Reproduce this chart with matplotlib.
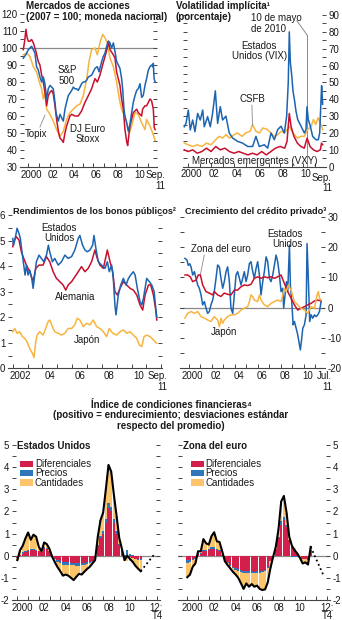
import numpy as np
import pandas as pd
import matplotlib
matplotlib.use("Agg")
import matplotlib.pyplot as plt
from matplotlib import font_manager
from matplotlib.patches import Rectangle

_names = {f.name for f in font_manager.fontManager.ttflist}
_base = "Liberation Sans Narrow" if "Liberation Sans Narrow" in _names else "Liberation Sans"
plt.rcParams["font.family"] = [_base, "DejaVu Sans"]
plt.rcParams["axes.unicode_minus"] = False

BLUE = "#1d64b0"
RED = "#c8102e"
ORANGE = "#f7b43f"
GREY = "#8a8a8a"
AXC = "#444444"
TXT = "#1a1a1a"
BAR_RED = "#d31f4b"
BAR_BLUE = "#2f76bd"
BAR_ORANGE = "#fcc56c"

# ---------------- Mercados de acciones (2007 = 100) ----------------
sp500_t = [1999.52, 1999.75, 1999.99, 2000.29, 2000.45, 2000.60, 2000.75, 2000.91, 2001.06, 2001.22,
           2001.37, 2001.52, 2001.68, 2001.83, 2001.99, 2002.15, 2002.29, 2002.45, 2002.54, 2002.76,
           2002.91, 2003.06, 2003.22, 2003.37, 2003.52, 2003.68, 2003.99, 2004.14, 2004.29, 2004.45,
           2004.60, 2004.76, 2004.91, 2005.06, 2005.22, 2005.37, 2005.53, 2005.83, 2005.99, 2006.14,
           2006.36, 2006.52, 2006.76, 2006.91, 2007.07, 2007.22, 2007.37, 2007.53, 2007.68, 2007.84,
           2007.99, 2008.14, 2008.30, 2008.45, 2008.60, 2008.70, 2008.82, 2008.91, 2009.07, 2009.22,
           2009.37, 2009.53, 2009.68, 2009.84, 2009.99, 2010.14, 2010.30, 2010.45, 2010.60, 2010.76,
           2010.91, 2011.07, 2011.22, 2011.37, 2011.47, 2011.53, 2011.60, 2011.70]
sp500_v = [94, 96, 99, 101, 99, 97, 89, 87, 83, 80,
           83, 79, 70, 76, 78, 77, 76, 68, 62, 57,
           61, 59, 57, 64, 68, 72, 75, 77, 76, 76,
           75, 77, 79, 80, 80, 81, 83, 84, 86, 88,
           89, 86, 92, 95, 97, 101, 104, 103, 100, 103,
           98, 92, 90, 88, 82, 76, 64, 60, 56, 51,
           55, 62, 68, 72, 75, 76, 79, 71, 72, 78,
           82, 87, 89, 90, 89, 91, 82, 80]

stoxx_t = [1999.52, 1999.65, 1999.77, 1999.88, 1999.99, 2000.14, 2000.29, 2000.45, 2000.69, 2000.91,
           2001.06, 2001.22, 2001.37, 2001.52, 2001.68, 2001.83, 2001.99, 2002.15, 2002.29, 2002.45,
           2002.60, 2002.76, 2002.91, 2003.06, 2003.22, 2003.37, 2003.52, 2003.83, 2003.99, 2004.29,
           2004.60, 2004.91, 2005.22, 2005.53, 2005.83, 2006.14, 2006.36, 2006.60, 2006.85, 2007.07,
           2007.28, 2007.40, 2007.53, 2007.84, 2007.99, 2008.14, 2008.45, 2008.60, 2008.76, 2008.91,
           2009.07, 2009.16, 2009.37, 2009.68, 2009.84, 2009.99, 2010.14, 2010.30, 2010.45, 2010.54,
           2010.76, 2010.91, 2011.07, 2011.22, 2011.37, 2011.53, 2011.62, 2011.70]
stoxx_v = [99, 104, 111, 106, 104, 104, 105, 103, 98, 92,
           90, 84, 80, 74, 66, 72, 74, 75, 73, 66,
           58, 51, 47, 46, 44.5, 50, 54, 60, 61, 60,
           60, 63, 68, 72, 76, 82, 80, 84, 90, 95,
           100, 104, 99, 96, 94, 86, 78, 70, 64, 52,
           45, 42.6, 54, 62, 63, 64, 62, 61, 60, 64,
           66, 66, 68, 70, 69, 64, 53, 52]

topix_t = [1999.52, 1999.83, 2000.14, 2000.45, 2000.75, 2001.00, 2001.22, 2001.37, 2001.52, 2001.68,
           2001.99, 2002.29, 2002.60, 2002.91, 2003.22, 2003.52, 2003.83, 2004.14, 2004.45, 2004.76,
           2005.06, 2005.37, 2005.62, 2005.83, 2006.14, 2006.36, 2006.60, 2006.85, 2007.07, 2007.28,
           2007.53, 2007.84, 2008.14, 2008.39, 2008.60, 2008.82, 2009.07, 2009.31, 2009.53, 2009.84,
           2010.14, 2010.45, 2010.76, 2010.91, 2011.22, 2011.47, 2011.60, 2011.70]
topix_v = [96, 97, 95, 89, 86, 80, 76, 70, 74, 64,
           61, 57, 52, 48, 51, 58, 62, 64, 66, 67,
           72, 81.5, 93, 99, 100, 96, 103, 108, 106, 103,
           94, 89, 80, 70, 64, 61, 56, 50, 54, 62,
           61, 56, 52, 58, 54, 50, 47.5, 45.5]

# ---------------- Volatilidad implícita (porcentaje) ----------------
vix_t = [1999.67, 1999.82, 2000.02, 2000.19, 2000.40, 2000.60, 2000.83, 2001.06, 2001.27, 2001.41,
         2001.70, 2001.93, 2002.13, 2002.37, 2002.57, 2002.80, 2003.00, 2003.29, 2003.58, 2003.87,
         2004.31, 2004.74, 2005.18, 2005.61, 2005.90, 2006.19, 2006.63, 2006.92, 2007.21, 2007.50,
         2007.79, 2008.08, 2008.37, 2008.57, 2008.71, 2008.80, 2008.89, 2009.00, 2009.12, 2009.24,
         2009.38, 2009.53, 2009.82, 2010.11, 2010.25, 2010.34, 2010.45, 2010.63, 2010.83, 2011.12,
         2011.32, 2011.44, 2011.56, 2011.61, 2011.70]
vix_v = [23.7, 25.7, 33.6, 21.8, 27.7, 20.8, 31.6, 27.7, 33.6, 23.7,
         29.7, 23.7, 31.6, 45, 25.7, 35.6, 27.7, 30, 20, 17,
         15, 14, 12, 12, 18, 12, 13, 11, 20, 16,
         22, 24, 20, 30, 50, 80, 62, 55, 45, 40,
         33, 28, 24, 20, 22, 35.6, 28, 24, 18, 16,
         16, 20, 40, 48, 37]

csfb_t = [1999.67, 2000.0, 2000.4, 2000.8, 2001.2, 2001.6, 2002.0, 2002.4, 2002.7, 2003.0,
          2003.3, 2003.6, 2004.0, 2004.3, 2004.7, 2005.0, 2005.4, 2005.6, 2005.9, 2006.2,
          2006.5, 2006.9, 2007.2, 2007.5, 2007.8, 2008.1, 2008.4, 2008.8, 2009.1, 2009.5,
          2009.8, 2010.1, 2010.4, 2010.7, 2010.9, 2011.1, 2011.3, 2011.5, 2011.7]
csfb_v = [14, 13, 12, 13, 12, 14, 13, 16, 18, 17,
          19, 17, 19, 20, 18, 20, 21, 25, 21, 20,
          23, 22, 20, 18, 19, 21, 20, 24, 20, 17,
          18, 18, 22, 24, 28, 25, 29, 26, 22]

vxy_t = [1999.67, 2000.0, 2000.4, 2000.8, 2001.2, 2001.6, 2002.0, 2002.4, 2002.8, 2003.2,
         2003.6, 2004.0, 2004.4, 2004.8, 2005.2, 2005.6, 2006.0, 2006.4, 2006.8, 2007.2,
         2007.6, 2008.0, 2008.4, 2008.6, 2008.8, 2008.95, 2009.2, 2009.5, 2009.8, 2010.1,
         2010.35, 2010.6, 2010.9, 2011.2, 2011.5, 2011.6, 2011.7]
vxy_v = [10, 9, 10, 8, 9, 11, 9, 12, 10, 11,
         9, 8, 9, 8, 7, 8, 7, 9, 7, 9,
         11, 12, 11, 15, 31.6, 24, 18, 14, 12, 11,
         17, 12, 10, 9, 10, 14, 13]

# ---------------- Rendimientos de los bonos públicos ----------------
us10_t = [2002.00, 2002.06, 2002.20, 2002.29, 2002.42, 2002.51, 2002.65, 2002.74, 2002.83, 2002.92,
          2003.03, 2003.14, 2003.28, 2003.37, 2003.48, 2003.59, 2003.77, 2003.93, 2004.09, 2004.27,
          2004.40, 2004.49, 2004.67, 2004.83, 2005.06, 2005.28, 2005.51, 2005.73, 2005.96, 2006.18,
          2006.41, 2006.52, 2006.70, 2006.86, 2007.02, 2007.20, 2007.38, 2007.47, 2007.60, 2007.76,
          2007.98, 2008.21, 2008.37, 2008.50, 2008.66, 2008.77, 2008.88, 2008.95, 2009.11, 2009.27,
          2009.45, 2009.63, 2009.79, 2009.94, 2010.12, 2010.24, 2010.39, 2010.57, 2010.69, 2010.80,
          2011.02, 2011.20, 2011.36, 2011.52, 2011.63, 2011.70]
us10_v = [5.08, 4.82, 5.2, 5.48, 5.28, 5.08, 4.43, 4.04, 3.65, 4.04,
          3.65, 3.85, 3.52, 3.13, 3.65, 4.17, 4.43, 4.3, 4.17, 4.43,
          4.82, 4.56, 4.17, 4.3, 4.04, 4.17, 4.43, 4.3, 4.37, 4.63,
          5.08, 5.2, 4.82, 4.63, 4.56, 4.63, 4.82, 5.2, 4.69, 4.17,
          4.04, 3.91, 4.17, 3.78, 4.04, 3.52, 2.48, 2.09, 2.87, 3.26,
          3.52, 3.26, 3.52, 3.65, 3.78, 3.65, 3.13, 2.61, 2.48, 2.74,
          3.52, 3.39, 3.26, 3.0, 2.35, 2.0]

de10_t = [2002.00, 2002.06, 2002.24, 2002.42, 2002.58, 2002.74, 2002.92, 2003.14, 2003.37, 2003.55,
          2003.77, 2004.04, 2004.27, 2004.49, 2004.72, 2004.94, 2005.17, 2005.39, 2005.57, 2005.73,
          2005.96, 2006.18, 2006.41, 2006.63, 2006.86, 2007.08, 2007.31, 2007.53, 2007.69, 2007.87,
          2008.10, 2008.37, 2008.55, 2008.73, 2008.88, 2009.04, 2009.22, 2009.45, 2009.67, 2009.90,
          2010.12, 2010.35, 2010.57, 2010.75, 2010.91, 2011.14, 2011.29, 2011.47, 2011.61, 2011.70]
de10_v = [4.76, 4.95, 5.15, 5.02, 4.56, 4.3, 4.04, 3.78, 3.39, 3.91,
          4.04, 4.04, 4.37, 4.17, 3.78, 3.52, 3.39, 3.26, 3.06, 3.26,
          3.39, 3.58, 3.78, 3.98, 3.78, 3.91, 4.17, 4.63, 4.3, 4.04,
          3.91, 4.63, 4.17, 3.78, 3.0, 2.87, 3.13, 3.39, 3.26, 3.13,
          3.06, 2.87, 2.48, 2.28, 2.87, 3.26, 3.26, 2.87, 2.35, 1.89]

jp10_t = [2002.00, 2002.13, 2002.29, 2002.47, 2002.65, 2002.81, 2002.96, 2003.14, 2003.32, 2003.43,
          2003.55, 2003.64, 2003.82, 2004.04, 2004.22, 2004.38, 2004.49, 2004.67, 2004.83, 2005.06,
          2005.28, 2005.51, 2005.73, 2005.96, 2006.18, 2006.34, 2006.52, 2006.75, 2006.97, 2007.20,
          2007.42, 2007.65, 2007.87, 2008.10, 2008.32, 2008.50, 2008.73, 2009.00, 2009.22, 2009.45,
          2009.67, 2009.90, 2010.12, 2010.35, 2010.53, 2010.69, 2010.84, 2011.02, 2011.25, 2011.47,
          2011.70]
jp10_v = [1.43, 1.56, 1.37, 1.43, 1.24, 1.17, 1.04, 0.78, 0.59, 0.42,
          1.04, 1.3, 1.43, 1.3, 1.56, 1.83, 1.89, 1.63, 1.43, 1.37,
          1.3, 1.37, 1.56, 1.56, 1.7, 1.96, 1.89, 1.63, 1.76, 1.7,
          1.89, 1.63, 1.56, 1.43, 1.24, 1.56, 1.37, 1.3, 1.43, 1.5,
          1.37, 1.43, 1.3, 1.17, 0.91, 0.85, 1.24, 1.3, 1.24, 1.11,
          0.98]

# ---------------- Crecimiento del crédito privado ----------------
cr_us_t = [1999.67, 1999.85, 1999.96, 2000.08, 2000.20, 2000.34, 2000.49, 2000.63, 2000.78, 2000.92,
           2001.07, 2001.21, 2001.36, 2001.50, 2001.64, 2001.79, 2001.93, 2002.08, 2002.22, 2002.37,
           2002.51, 2002.66, 2002.80, 2002.95, 2003.09, 2003.24, 2003.38, 2003.53, 2003.67, 2003.82,
           2003.96, 2004.11, 2004.25, 2004.40, 2004.54, 2004.69, 2004.83, 2004.98, 2005.12, 2005.27,
           2005.41, 2005.56, 2005.70, 2005.85, 2005.99, 2006.14, 2006.28, 2006.43, 2006.57, 2006.72,
           2006.86, 2007.01, 2007.15, 2007.30, 2007.44, 2007.59, 2007.73, 2007.88, 2008.02, 2008.17,
           2008.25, 2008.37, 2008.49, 2008.60, 2008.75, 2008.83, 2008.95, 2009.07, 2009.18, 2009.33,
           2009.47, 2009.62, 2009.70, 2009.82, 2009.91, 2010.05, 2010.20, 2010.28, 2010.40, 2010.51,
           2010.63, 2010.78, 2010.92, 2011.07, 2011.21, 2011.36, 2011.50]
cr_us_v = [16.3, 15.7, 14, 14.5, 13.5, 10.8, 11.9, 9.7, 7.5, 6.4,
           4.2, 0.9, 2, -0.2, -1.9, -1.3, 0.9, 2.5, 5.3, 9.7,
           14.1, 13.5, 9.7, 6.4, 8.6, 11.9, 13.5, 8.6, -0.2, -1.9,
           4.2, 10.8, 11.9, 9.7, 7.5, 9.7, 11.9, 8.6, 10.8, 14.6,
           15.2, 11.9, 9.7, 13, 15.2, 10.8, 4.2, 8.6, 11.9, 16.8,
           15.2, 9.7, 8.6, 10.8, 14, 17.4, 15.2, 10.8, 5.3, 6.4,
           -0.2, 4.2, 8.6, 5.3, 20.7, 7.5, 2, -5.7, -4.6, -6.8,
           -9, -12.3, -14, -10.1, -6.8, -5.7, -2.4, 21.2, 8.6, -4.6,
           -2.4, -3.5, -2.4, -3, -2.4, -1.3, 2]

cr_eu_t = [1999.67, 1999.90, 2000.13, 2000.34, 2000.63, 2000.83, 2001.01, 2001.21, 2001.50, 2001.79,
           2002.08, 2002.22, 2002.51, 2002.80, 2003.09, 2003.38, 2003.67, 2003.96, 2004.25, 2004.54,
           2004.83, 2005.12, 2005.41, 2005.70, 2005.99, 2006.28, 2006.57, 2006.86, 2007.15, 2007.44,
           2007.73, 2008.02, 2008.31, 2008.60, 2008.89, 2009.18, 2009.47, 2009.76, 2010.05, 2010.34,
           2010.63, 2010.92, 2011.21, 2011.50]
cr_eu_v = [10.8, 10.8, 10.2, 8.6, 9.1, 10.8, 10.8, 7.5, 5.3, 4.8,
           4.2, 5.3, 4.2, 3.7, 4.8, 4.4, 4.2, 5.8, 5.8, 6.9,
           7.5, 7.3, 7.7, 9.7, 10.2, 9.7, 10.2, 9.9, 10.2, 9.7,
           10.2, 10.8, 8, 5.3, 3.1, 0.9, -0.8, -0.2, 0.3, 0.9,
           1.4, 2.2, 2.5, 2.2]

cr_jp_t = [1999.67, 1999.90, 2000.20, 2000.49, 2000.78, 2001.07, 2001.36, 2001.64, 2001.93, 2002.22,
           2002.51, 2002.66, 2002.80, 2002.95, 2003.09, 2003.38, 2003.67, 2003.96, 2004.25, 2004.54,
           2004.83, 2005.12, 2005.27, 2005.41, 2005.56, 2005.70, 2005.99, 2006.14, 2006.28, 2006.57,
           2006.86, 2007.15, 2007.44, 2007.73, 2008.02, 2008.17, 2008.31, 2008.46, 2008.66, 2008.89,
           2009.18, 2009.47, 2009.76, 2010.05, 2010.34, 2010.63, 2010.92, 2011.15, 2011.27, 2011.36,
           2011.50]
cr_jp_v = [-3.5, -1.9, -1.3, -1.9, -1.3, -3, -3.5, -4.1, -4.6, -3,
           -4.1, -6.3, -3.5, -5.2, -4.1, -3, -2.4, -2.4, -1.9, -0.8,
           -0.2, 0.3, 2, 4.2, 3.6, 2.5, 2, 4.2, 2.5, 0.9,
           0.3, 1.4, 2, 2.5, 2, 4.2, 6.4, 5.3, 7.5, 5.8,
           2, 0.9, -0.2, -0.8, -1.9, 0.3, -0.2, 4.2, 5.3, 3.1,
           2.5]

# ---------------- Índice de condiciones financieras (trimestral) ----------------
quarters = pd.period_range("2000Q1", "2011Q3", freq="Q")
fci_t = np.asarray(quarters.year + (quarters.quarter - 1) / 4.0, dtype=float)

us_dif = [-0.05, 0.05, 0.1, 0.15, 0.2, 0.25, 0.25, 0.2, 0.2, 0.15,
          0.35, 0.3, 0.2, 0.0, -0.1, -0.2, -0.25, -0.3, -0.3, -0.3,
          -0.32, -0.33, -0.35, -0.35, -0.32, -0.33, -0.3, -0.3, -0.25, -0.1,
          0.45, 0.8, 1.0, 1.5, 2.15, 2.0, 1.5, 1.0, 0.5, 0.2,
          -0.05, 0.0, -0.05, -0.1, -0.15, -0.15, -0.15]
us_pre = [-0.05, 0.0, 0.05, 0.05, 0.05, 0.05, 0.05, 0.05, 0.0, 0.0,
          0.05, 0.05, 0.0, -0.05, -0.05, -0.07, -0.08, -0.1, -0.1, -0.1,
          -0.1, -0.1, -0.1, -0.1, -0.1, -0.08, -0.08, -0.05, -0.03, 0.0,
          0.05, 0.1, 0.1, 0.15, 0.25, 0.2, 0.15, 0.1, 0.05, 0.05,
          0.05, 0.25, 0.1, 0.05, 0.0, -0.03, -0.05]
us_can = [-0.1, 0.2, 0.3, 0.58, 0.8, 0.42, 0.65, 0.61, 0.2, 0.05,
          0.2, 0.17, 0.1, 0.0, -0.15, -0.25, -0.37, -0.5, -0.45, -0.5,
          -0.58, -0.67, -0.5, -0.37, -0.43, -0.31, -0.22, -0.15, -0.07, -0.1,
          0.36, 0.7, 0.85, 1.35, 1.7, 1.6, 1.1, 0.7, 0.25, 0.05,
          -0.2, -0.25, -0.2, -0.22, -0.3, -0.4, -0.5]
us_proj_t = [2012.75]
us_proj_v = [0.05]

eu_dif = [-0.2, -0.2, -0.15, -0.1, 0.1, 0.1, 0.2, 0.2, 0.25, 0.3,
          0.3, 0.25, 0.2, 0.05, -0.2, -0.3, -0.4, -0.5, -0.55, -0.6,
          -0.65, -0.7, -0.7, -0.7, -0.7, -0.72, -0.7, -0.7, -0.7, -0.65,
          -0.5, -0.25, 0.0, 0.3, 0.8, 1.4, 1.6, 1.3, 0.7, 0.4,
          0.25, 0.1, 0.0, -0.15, -0.15, -0.2, 0.25]
eu_pre = [-0.12, -0.1, -0.05, -0.05, 0.02, 0.02, 0.05, 0.05, 0.05, 0.08,
          0.1, 0.05, 0.05, 0.0, -0.05, -0.05, -0.05, -0.05, -0.08, -0.08,
          -0.1, -0.1, -0.1, -0.1, -0.08, -0.08, -0.08, -0.08, -0.05, -0.05,
          -0.05, 0.0, 0.0, 0.02, 0.05, 0.15, 0.15, 0.1, 0.0, -0.05,
          -0.08, -0.05, 0.0, 0.0, 0.0, 0.0, 0.0]
eu_can = [-0.65, -0.55, -0.3, -0.2, 0.08, 0.08, 0.5, 0.31, 0.2, 0.5,
          0.66, 0.35, 0.37, 0.15, 0.0, -0.07, -0.12, -0.18, -0.22, -0.32,
          -0.5, -0.7, -0.45, -0.6, -0.5, -0.6, -0.57, -0.72, -0.8, -0.82,
          -0.65, -0.3, -0.05, 0.09, 0.35, 0.9, 0.95, 0.55, 0.16, 0.1,
          0.08, 0.05, -0.1, -0.2, -0.15, -0.2, 0.15]
eu_proj_t = [2012.75]
eu_proj_v = [-0.95]

fci_labels = ["Diferenciales", "Precios", "Cantidades"]
year_labels = ["2000", "02", "04", "06", "08", "10"]

FS = 7.0      # tick labels and in-plot labels
TFS = 7.0     # bold titles


def style_axis(ax, xlim, ylim, ymajor, yminor, side, ticks, label_pos, labels,
               end_x, end_text, end_spacing=1.1, end_drop=2.0):
    ax.set_xlim(*xlim)
    ax.set_ylim(*ylim)
    ax.patch.set_visible(False)
    for s in ("left", "right", "top"):
        ax.spines[s].set_visible(False)
    ax.spines["bottom"].set_color(AXC)
    ax.spines["bottom"].set_linewidth(0.8)
    ax.set_yticks(ymajor)
    ax.set_yticks(yminor, minor=True)
    ax.tick_params(axis="y", which="both", direction="in", length=3, width=0.7,
                   color=AXC, left=True, right=True,
                   labelleft=(side == "left"), labelright=(side == "right"),
                   labelsize=FS, labelcolor=TXT, pad=2)
    ax.set_xticks(ticks)
    ax.set_xticklabels([])
    ax.tick_params(axis="x", which="major", direction="in", length=3, width=0.7,
                   color=AXC)
    ax.set_xticks(label_pos, minor=True)
    ax.set_xticklabels(labels, minor=True)
    ax.tick_params(axis="x", which="minor", length=0, labelsize=FS,
                   labelcolor=TXT, pad=2)
    ax.annotate(end_text, xy=(end_x, 0), xycoords=("data", "axes fraction"),
                xytext=(0, -end_drop), textcoords="offset points", ha="center",
                va="top", fontsize=FS, color=TXT, multialignment="right",
                linespacing=end_spacing, annotation_clip=False)


fig = plt.figure(figsize=(3.42, 6.20), dpi=100)
W, H = 342.0, 620.0


def add_axes(l, t, r, b):
    return fig.add_axes([l / W, 1 - b / H, (r - l) / W, (b - t) / H])


def title_line(x, y, s, size=TFS, ha="left"):
    fig.text(x / W, 1 - y / H, s, ha=ha, va="center", fontsize=size,
             fontweight="bold", color=TXT)


# ---- Panel 1: stock markets ----
ax1 = add_axes(20, 14, 157, 167)
ax1.axhline(100, color=GREY, lw=0.9, zorder=1)
ax1.plot(topix_t, topix_v, color=ORANGE, lw=1.1, zorder=2)
ax1.plot(stoxx_t, stoxx_v, color=RED, lw=1.1, zorder=3)
ax1.plot(sp500_t, sp500_v, color=BLUE, lw=1.1, zorder=4)
style_axis(ax1, (1999.22, 2011.87), (30, 120), np.arange(30, 121, 10),
           np.arange(35, 120, 10), "left", np.arange(2000, 2012),
           np.arange(2000, 2011, 2) + 0.25, year_labels, 2011.75, "Sep.\n11")
ax1.text(2003.56, 83.8, "S&P\n500", ha="center", va="center", fontsize=FS,
         color=TXT, linespacing=1.05)
ax1.text(2000.69, 49.4, "Topix", ha="center", va="center", fontsize=FS, color=TXT)
ax1.plot([2001.06, 2001.53], [53.5, 60.6], color=GREY, lw=0.6)
ax1.text(2005.43, 49.4, "DJ Euro\nStoxx", ha="center", va="center", fontsize=FS,
         color=TXT, linespacing=1.05)
title_line(26, 6, "Mercados de acciones")
title_line(26, 17, "(2007 = 100; moneda nacional)")

# ---- Panel 2: implied volatility ----
ax2 = add_axes(183, 15, 326, 166.7)
ax2.plot([2010.36, 2010.36], [0, 78], color=GREY, lw=0.7, zorder=1)
ax2.plot([2009.46, 2010.36], [86.6, 78], color=GREY, lw=0.7, zorder=1)
ax2.plot(csfb_t, csfb_v, color=ORANGE, lw=1.1, zorder=2)
ax2.plot(vix_t, vix_v, color=BLUE, lw=1.1, zorder=3)
ax2.plot(vxy_t, vxy_v, color=RED, lw=1.1, zorder=4)
style_axis(ax2, (1999.56, 2011.99), (0, 90), np.arange(0, 91, 10),
           np.arange(5, 90, 10), "right", np.arange(2000, 2012),
           np.arange(2000, 2011, 2) + 0.25, year_labels, 2011.64, "Sep.\n11",
           end_drop=4.2)
ax2.text(2005.5, 85, "10 de mayo\nde 2010", ha="left", va="center", fontsize=FS,
         color=TXT, linespacing=1.05)
ax2.text(2006.18, 68.6, "Estados\nUnidos (VIX)", ha="center", va="center",
         fontsize=FS, color=TXT, linespacing=1.05)
ax2.text(2005.55, 40.2, "CSFB", ha="center", va="center", fontsize=FS, color=TXT)
ax2.plot([2005.55, 2005.6], [36.5, 24.7], color=GREY, lw=0.6)
ax2.text(2005.82, 3.4, "Mercados emergentes (VXY)", ha="center", va="center",
         fontsize=FS, color=TXT)
title_line(176, 6, "Volatilidad implícita\u00b9")
title_line(176, 17, "(porcentaje)")

# ---- Panel 3: government bond yields ----
ax3 = add_axes(8, 215, 162, 368.3)
ax3.plot(jp10_t, jp10_v, color=ORANGE, lw=1.1, zorder=2)
ax3.plot(de10_t, de10_v, color=RED, lw=1.1, zorder=3)
ax3.plot(us10_t, us10_v, color=BLUE, lw=1.1, zorder=4)
style_axis(ax3, (2001.68, 2012.05), (0, 6), np.arange(0, 7, 1),
           np.arange(0.5, 6, 1), "left", np.arange(2002, 2013),
           np.arange(2002, 2011, 2) + 0.5, ["2002", "04", "06", "08", "10"],
           2011.72, "Sep.\n11")
ax3.text(2005.12, 5.3, "Estados\nUnidos", ha="center", va="center", fontsize=FS,
         color=TXT, linespacing=1.05)
ax3.text(2006.2, 2.8, "Alemania", ha="center", va="center", fontsize=FS, color=TXT)
ax3.text(2007.0, 1.1, "Japón", ha="center", va="center", fontsize=FS, color=TXT)
title_line(13, 211, "Rendimientos de los bonos públicos\u00b2", size=6.6)

# ---- Panel 4: private credit growth ----
ax4 = add_axes(180, 217, 325, 368)
ax4.axhline(0, color=GREY, lw=0.9, zorder=1)
ax4.plot(cr_us_t, cr_us_v, color=BLUE, lw=1.1, zorder=2)
ax4.plot(cr_eu_t, cr_eu_v, color=RED, lw=1.1, zorder=3)
ax4.plot(cr_jp_t, cr_jp_v, color=ORANGE, lw=1.1, zorder=4)
style_axis(ax4, (1999.24, 2011.84), (-20, 30), np.arange(-20, 31, 10),
           np.arange(-15, 30, 10), "right", np.arange(2000, 2012),
           np.arange(2000, 2011, 2) + 0.35, year_labels, 2011.8, "Jul.\n11")
ax4.text(2002.8, 19.4, "Zona del euro", ha="center", va="center", fontsize=FS,
         color=TXT)
ax4.plot([2001.35, 2001.0], [17.4, 10.8], color=GREY, lw=0.6)
ax4.text(2009.9, 22.7, "Estados\nUnidos", ha="right", va="center", fontsize=FS,
         color=TXT, linespacing=1.05, multialignment="right")
ax4.text(2003.06, -8.1, "Japón", ha="center", va="center", fontsize=FS, color=TXT)
title_line(185, 211, "Crecimiento del crédito privado\u00b3", size=6.6)

# ---- Financial conditions index title ----
title_line(171, 405, "Índice de condiciones financieras\u2074", ha="center")
title_line(171, 415.5, "(positivo = endurecimiento; desviaciones estándar", ha="center")
title_line(171, 426, "respecto del promedio)", ha="center")


def fci_panel(ax, dif, pre, can, proj_t, proj_v):
    pos_base = np.zeros(len(fci_t))
    neg_base = np.zeros(len(fci_t))
    for vals, col in ((dif, BAR_RED), (pre, BAR_BLUE), (can, BAR_ORANGE)):
        vals = np.asarray(vals, dtype=float)
        pos = np.clip(vals, 0, None)
        neg = np.clip(vals, None, 0)
        ax.bar(fci_t, pos, width=0.22, bottom=pos_base, color=col, linewidth=0, zorder=2)
        ax.bar(fci_t, neg, width=0.22, bottom=neg_base, color=col, linewidth=0, zorder=2)
        pos_base += pos
        neg_base += neg
    total = np.asarray(dif) + np.asarray(pre) + np.asarray(can)
    ax.axhline(0, color=GREY, lw=0.9, zorder=1)
    ax.plot(fci_t, total, color="black", lw=1.5, zorder=4)
    ax.plot([fci_t[-1]] + proj_t, [total[-1]] + proj_v, color="black", lw=1.3,
            ls=(0, (1, 1.6)), zorder=4)


def fci_legend(ax, x0, w, text_x):
    cols = (BAR_RED, BAR_BLUE, BAR_ORANGE)
    ys = (0.877, 0.819, 0.758)
    for lab, col, yc in zip(fci_labels, cols, ys):
        ax.add_patch(Rectangle((x0, yc - 0.021), w, 0.042, transform=ax.transAxes,
                               color=col, linewidth=0, clip_on=False))
        ax.text(text_x, yc, lab, transform=ax.transAxes, ha="left", va="center",
                fontsize=FS, color=TXT)


ax5 = add_axes(12, 445, 160, 600)
fci_panel(ax5, us_dif, us_pre, us_can, us_proj_t, us_proj_v)
style_axis(ax5, (1999.5, 2013.3), (-2, 5), np.arange(-2, 6, 1),
           np.arange(-1.5, 5, 1), "left", np.arange(2000, 2014),
           np.arange(2000, 2011, 2) + 0.5, year_labels, 2012.95, "12:\nT4",
           end_spacing=0.82)
fci_legend(ax5, 0.054, 0.09, 0.155)
ax5.text(0.034, 0.993, "Estados Unidos", transform=ax5.transAxes, ha="left",
         va="center", fontsize=TFS, fontweight="bold", color=TXT)

ax6 = add_axes(178, 445, 330, 600)
fci_panel(ax6, eu_dif, eu_pre, eu_can, eu_proj_t, eu_proj_v)
style_axis(ax6, (1999.13, 2013.3), (-2, 5), np.arange(-2, 6, 1),
           np.arange(-1.5, 5, 1), "right", np.arange(2000, 2014),
           np.arange(2000, 2011, 2) + 0.5, year_labels, 2013.0, "12:\nT4",
           end_spacing=0.82)
fci_legend(ax6, 0.0855, 0.0875, 0.181)
ax6.text(0.033, 0.993, "Zona del euro", transform=ax6.transAxes, ha="left",
         va="center", fontsize=TFS, fontweight="bold", color=TXT)

fig.savefig("out.png", dpi=100, facecolor="white")
